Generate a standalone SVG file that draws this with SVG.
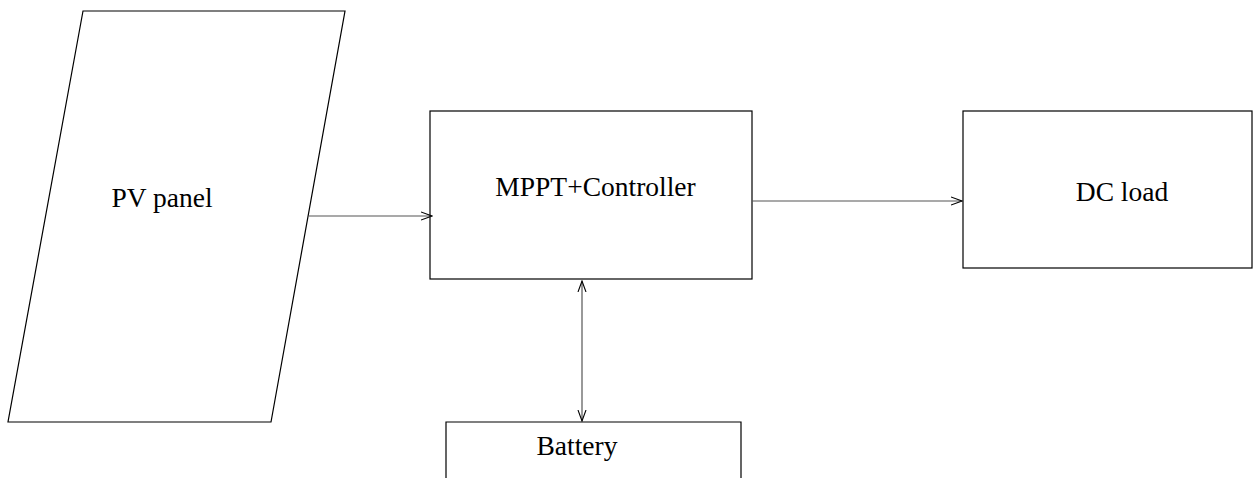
<svg xmlns="http://www.w3.org/2000/svg" width="1258" height="478" viewBox="0 0 1258 478">
  <style>
    .box { fill: #ffffff; stroke: #000000; stroke-width: 1.2; }
    .label { font-family: "Liberation Serif", "Times New Roman", serif; font-size: 27.5px; fill: #000000; text-anchor: middle; }
    .wire { fill: none; stroke: #555555; stroke-width: 1.2; }
  </style>
  <defs>
    <marker id="open-head" viewBox="0 0 12 10" refX="11" refY="5" markerWidth="12" markerHeight="10" markerUnits="userSpaceOnUse" orient="auto-start-reverse">
      <path d="M0,1 L11,5 L0,9" fill="none" stroke="#000000" stroke-width="1.1"/>
    </marker>
  </defs>
  <rect width="1258" height="478" fill="#ffffff"/>

  <g id="pv-panel">
    <polygon class="box" points="83,11 345,11 271,422 8,422"/>
    <text class="label" x="162" y="207">PV panel</text>
  </g>

  <g id="mppt-controller">
    <rect class="box" x="430" y="111" width="322" height="168"/>
    <text class="label" x="595.5" y="196">MPPT+Controller</text>
  </g>

  <g id="dc-load">
    <rect class="box" x="963" y="111" width="289" height="157"/>
    <text class="label" x="1122" y="201">DC load</text>
  </g>

  <g id="battery">
    <path class="box" d="M446,480 L446,422 L741,422 L741,480"/>
    <text class="label" x="577" y="455">Battery</text>
  </g>

  <g id="connectors">
    <line class="wire" x1="309" y1="216" x2="432" y2="216" marker-end="url(#open-head)"/>
    <line class="wire" x1="752" y1="201" x2="962" y2="201" marker-end="url(#open-head)"/>
    <line class="wire" x1="582" y1="281" x2="582" y2="421" marker-start="url(#open-head)" marker-end="url(#open-head)"/>
  </g>
</svg>
